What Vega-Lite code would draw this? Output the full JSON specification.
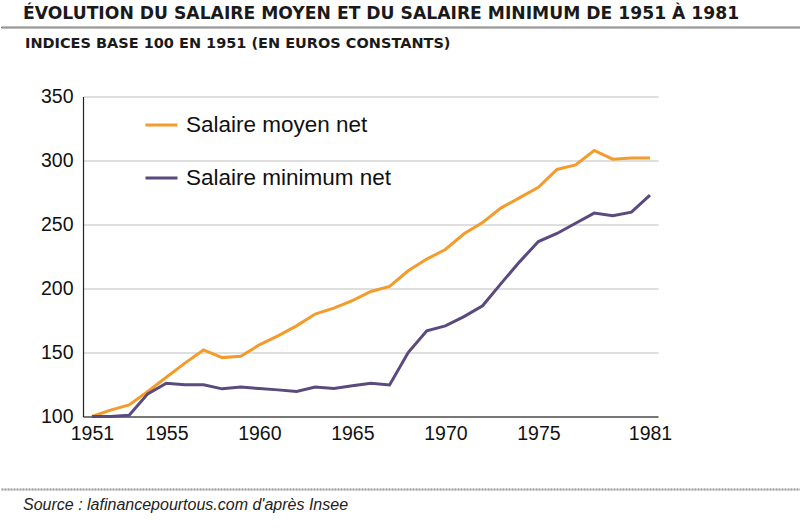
{
  "$schema": "https://vega.github.io/schema/vega-lite/v6.json",
  "background": "white",
  "padding": {"left": 0, "top": 4.5, "right": 0, "bottom": 0},
  "spacing": 7,
  "config": {
    "font": "Liberation Sans",
    "view": {"stroke": null}
  },
  "resolve": {"scale": {"color": "independent"}, "legend": {"color": "independent"}},
  "vconcat": [
    {
      "width": 800,
      "height": 1,
      "data": {"values": []},
      "mark": "point",
      "view": {"stroke": "#7a7a7a", "strokeWidth": 1},
      "title": {
        "text": "ÉVOLUTION DU SALAIRE MOYEN ET DU SALAIRE MINIMUM DE 1951 À 1981",
        "anchor": "start",
        "frame": "group",
        "dx": 22,
        "offset": 4,
        "font": "DejaVu Sans",
        "fontSize": 17.2,
        "fontWeight": "bold",
        "color": "#1a1a1a"
      }
    },
    {
      "spacing": 0,
      "resolve": {"scale": {"color": "independent"}, "legend": {"color": "independent"}},
      "hconcat": [
        {
          "width": 1,
          "height": 1,
          "data": {"values": []},
          "mark": "point"
        },
        {
          "width": 575,
          "height": 320,
          "title": {
            "text": "INDICES BASE 100 EN 1951 (EN EUROS CONSTANTS)",
            "anchor": "start",
            "frame": "group",
            "dx": -58,
            "offset": 35,
            "font": "DejaVu Sans",
            "fontSize": 14.5,
            "fontWeight": "bold",
            "color": "#1a1a1a"
          },
          "data": {
            "values": [
              {"year": 1951, "serie": "Salaire moyen net", "value": 100},
              {"year": 1952, "serie": "Salaire moyen net", "value": 105},
              {"year": 1953, "serie": "Salaire moyen net", "value": 109},
              {"year": 1954, "serie": "Salaire moyen net", "value": 119.5},
              {"year": 1955, "serie": "Salaire moyen net", "value": 130.7},
              {"year": 1956, "serie": "Salaire moyen net", "value": 141.7},
              {"year": 1957, "serie": "Salaire moyen net", "value": 152},
              {"year": 1958, "serie": "Salaire moyen net", "value": 146},
              {"year": 1959, "serie": "Salaire moyen net", "value": 147},
              {"year": 1960, "serie": "Salaire moyen net", "value": 156},
              {"year": 1961, "serie": "Salaire moyen net", "value": 163},
              {"year": 1962, "serie": "Salaire moyen net", "value": 170.8},
              {"year": 1963, "serie": "Salaire moyen net", "value": 180},
              {"year": 1964, "serie": "Salaire moyen net", "value": 184.6},
              {"year": 1965, "serie": "Salaire moyen net", "value": 190.6},
              {"year": 1966, "serie": "Salaire moyen net", "value": 197.7},
              {"year": 1967, "serie": "Salaire moyen net", "value": 201.6},
              {"year": 1968, "serie": "Salaire moyen net", "value": 213.8},
              {"year": 1969, "serie": "Salaire moyen net", "value": 223},
              {"year": 1970, "serie": "Salaire moyen net", "value": 230.5},
              {"year": 1971, "serie": "Salaire moyen net", "value": 242.7},
              {"year": 1972, "serie": "Salaire moyen net", "value": 251.6},
              {"year": 1973, "serie": "Salaire moyen net", "value": 263},
              {"year": 1974, "serie": "Salaire moyen net", "value": 271},
              {"year": 1975, "serie": "Salaire moyen net", "value": 279},
              {"year": 1976, "serie": "Salaire moyen net", "value": 293},
              {"year": 1977, "serie": "Salaire moyen net", "value": 296.6},
              {"year": 1978, "serie": "Salaire moyen net", "value": 307.8},
              {"year": 1979, "serie": "Salaire moyen net", "value": 301},
              {"year": 1980, "serie": "Salaire moyen net", "value": 302},
              {"year": 1981, "serie": "Salaire moyen net", "value": 302},
              {"year": 1951, "serie": "Salaire minimum net", "value": 100},
              {"year": 1952, "serie": "Salaire minimum net", "value": 100},
              {"year": 1953, "serie": "Salaire minimum net", "value": 101},
              {"year": 1954, "serie": "Salaire minimum net", "value": 117.7},
              {"year": 1955, "serie": "Salaire minimum net", "value": 126},
              {"year": 1956, "serie": "Salaire minimum net", "value": 124.8},
              {"year": 1957, "serie": "Salaire minimum net", "value": 124.8},
              {"year": 1958, "serie": "Salaire minimum net", "value": 121.6},
              {"year": 1959, "serie": "Salaire minimum net", "value": 123},
              {"year": 1960, "serie": "Salaire minimum net", "value": 121.8},
              {"year": 1961, "serie": "Salaire minimum net", "value": 120.8},
              {"year": 1962, "serie": "Salaire minimum net", "value": 119.5},
              {"year": 1963, "serie": "Salaire minimum net", "value": 123},
              {"year": 1964, "serie": "Salaire minimum net", "value": 121.8},
              {"year": 1965, "serie": "Salaire minimum net", "value": 124},
              {"year": 1966, "serie": "Salaire minimum net", "value": 126},
              {"year": 1967, "serie": "Salaire minimum net", "value": 124.7},
              {"year": 1968, "serie": "Salaire minimum net", "value": 150},
              {"year": 1969, "serie": "Salaire minimum net", "value": 167},
              {"year": 1970, "serie": "Salaire minimum net", "value": 170.8},
              {"year": 1971, "serie": "Salaire minimum net", "value": 178},
              {"year": 1972, "serie": "Salaire minimum net", "value": 186.5},
              {"year": 1973, "serie": "Salaire minimum net", "value": 204},
              {"year": 1974, "serie": "Salaire minimum net", "value": 221},
              {"year": 1975, "serie": "Salaire minimum net", "value": 236.7},
              {"year": 1976, "serie": "Salaire minimum net", "value": 243},
              {"year": 1977, "serie": "Salaire minimum net", "value": 251},
              {"year": 1978, "serie": "Salaire minimum net", "value": 258.9},
              {"year": 1979, "serie": "Salaire minimum net", "value": 256.8},
              {"year": 1980, "serie": "Salaire minimum net", "value": 259.6},
              {"year": 1981, "serie": "Salaire minimum net", "value": 273}
            ]
          },
          "mark": {"type": "line", "strokeWidth": 3, "strokeJoin": "miter", "strokeCap": "butt"},
          "encoding": {
            "x": {
              "field": "year",
              "type": "quantitative",
              "scale": {"domain": [1950.52, 1981.43], "nice": false, "zero": false},
              "axis": {
                "values": [1951, 1955, 1960, 1965, 1970, 1975, 1981],
                "format": "d",
                "title": null,
                "grid": false,
                "ticks": false,
                "domainColor": "#555555",
                "domainWidth": 1.5,
                "labelPadding": 8,
                "labelFontSize": 19.5,
                "labelColor": "#111111",
                "labelFlush": false,
                "minExtent": 64
              }
            },
            "y": {
              "field": "value",
              "type": "quantitative",
              "scale": {"domain": [100, 350], "nice": false, "zero": false},
              "axis": {
                "values": [100, 150, 200, 250, 300, 350],
                "title": null,
                "grid": true,
                "gridColor": "#d4d4d4",
                "gridWidth": 1.5,
                "ticks": false,
                "domainColor": "#222222",
                "domainWidth": 1.2,
                "labelPadding": 10,
                "labelFontSize": 19.5,
                "labelColor": "#111111",
                "labelFlush": false,
                "minExtent": 81
              }
            },
            "color": {
              "field": "serie",
              "type": "nominal",
              "scale": {
                "domain": ["Salaire moyen net", "Salaire minimum net"],
                "range": ["#F39C2C", "#5A4A7E"]
              },
              "legend": {
                "orient": "none",
                "legendX": 61,
                "legendY": 11,
                "title": null,
                "symbolType": "stroke",
                "symbolSize": 1024,
                "symbolStrokeWidth": 3,
                "labelFontSize": 22.5,
                "labelColor": "#111111",
                "labelOffset": 7,
                "rowPadding": 24,
                "padding": 0,
                "labelLimit": 400
              }
            }
          }
        }
      ]
    },
    {
      "width": 800,
      "height": 1,
      "data": {"values": []},
      "mark": "point",
      "view": {"stroke": "#808080", "strokeWidth": 1, "strokeDash": [2, 1]},
      "title": {
        "text": "Source : lafinancepourtous.com d'après Insee",
        "orient": "bottom",
        "anchor": "start",
        "frame": "group",
        "dx": 22,
        "offset": 7,
        "baseline": "top",
        "font": "Liberation Sans",
        "fontSize": 16,
        "fontStyle": "italic",
        "fontWeight": "normal",
        "color": "#222222"
      }
    }
  ]
}
